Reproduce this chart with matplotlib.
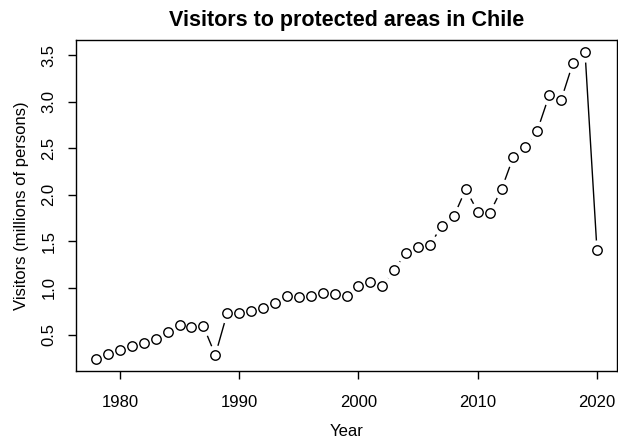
import numpy as np
import matplotlib
matplotlib.use("Agg")
import matplotlib.pyplot as plt

plt.rcParams['font.family'] = ['Liberation Sans', 'DejaVu Sans']

# visitors per year, millions of persons
years = np.arange(1978, 2021)
visitors = [0.24, 0.29, 0.33, 0.38, 0.41, 0.45, 0.53, 0.60, 0.585, 0.59,
            0.28, 0.73, 0.73, 0.75, 0.78, 0.84, 0.91, 0.905, 0.91, 0.95,
            0.93, 0.915, 1.02, 1.06, 1.02, 1.19, 1.38, 1.44, 1.46, 1.67,
            1.77, 2.06, 1.82, 1.80, 2.06, 2.41, 2.51, 2.69, 3.07, 3.02,
            3.42, 3.53, 1.41]
xticks = [1980, 1990, 2000, 2010, 2020]
yticks = [0.5, 1.0, 1.5, 2.0, 2.5, 3.0, 3.5]

fig = plt.figure(figsize=(6.18, 4.37), dpi=100)
ax = fig.add_axes([76 / 618, 1 - 371 / 437, 541 / 618, 331 / 437])

# R type="b": line with gaps around the points
ax.plot(years, visitors, color='black', lw=1.0, zorder=1)
ax.plot(years, visitors, ls='none', marker='o', ms=14.5, mfc='white',
        mec='none', zorder=2)
ax.plot(years, visitors, ls='none', marker='o', ms=6.8, mfc='white',
        mec='black', mew=1.0, zorder=3)

# R default 4% axis extension
xr = years[-1] - years[0]
ax.set_xlim(years[0] - 0.04 * xr, years[-1] + 0.04 * xr)
yr = max(visitors) - min(visitors)
ax.set_ylim(min(visitors) - 0.04 * yr, max(visitors) + 0.04 * yr)

ax.set_xticks(xticks)
ax.set_yticks(yticks)
ax.set_yticklabels([f'{v:.1f}' for v in yticks], rotation=90, va='center')
ax.tick_params(direction='out', length=6, width=1, labelsize=12)
ax.tick_params(axis='x', pad=11)
ax.tick_params(axis='y', pad=8)
for s in ax.spines.values():
    s.set_linewidth(1.0)

ax.set_xlabel('Year', fontsize=12, labelpad=10)
ax.set_ylabel('Visitors (millions of persons)', fontsize=12, labelpad=9)
ax.set_title('Visitors to protected areas in Chile', fontsize=15.5,
             fontweight='bold', pad=10)

fig.savefig('out.png', dpi=100)
